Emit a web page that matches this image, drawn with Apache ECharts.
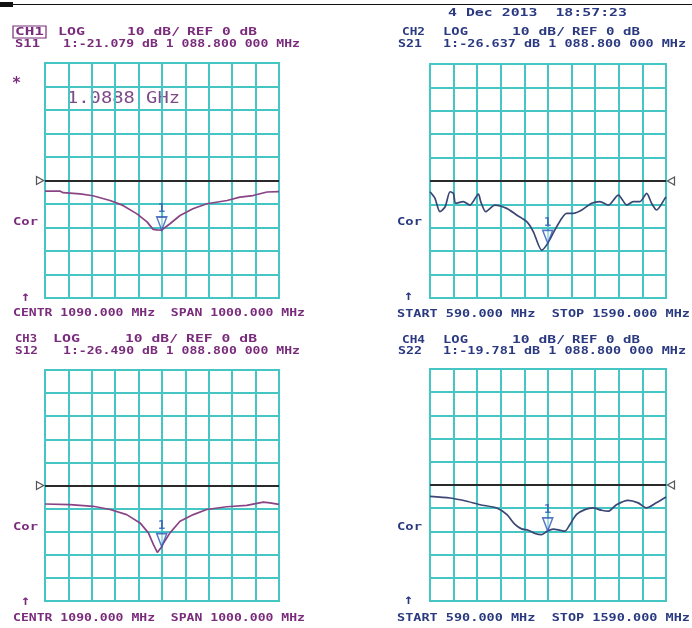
<!DOCTYPE html>
<html>
<head>
<meta charset="utf-8">
<script src="https://cdn.jsdelivr.net/npm/echarts@6/dist/echarts.min.js"></script>
<style>html,body{margin:0;padding:0;background:#fff;}#c{width:692px;height:628px;}</style>
</head>
<body>
<div id="c"></div>
<script>
// ---- data (frequency in MHz, magnitude in dB) ----
const s11Freq = [590, 654, 667, 740, 795, 868, 923, 983, 1026, 1052, 1070, 1088.8, 1124, 1167, 1222, 1282, 1368, 1423, 1479, 1539, 1590];
const s11Db   = [-4.5, -4.5, -5.2, -5.7, -6.5, -8.5, -10.6, -14.2, -17.6, -20.8, -21.0, -21.08, -18.4, -14.9, -12.0, -9.9, -8.5, -7.1, -6.4, -4.9, -4.7];

const s21Freq = [590, 611, 632, 654, 675, 689, 699, 731, 759, 795, 805, 826, 865, 915, 957, 1000, 1028, 1063, 1088.8, 1127, 1169, 1197, 1233, 1275, 1310, 1346, 1388, 1424, 1451, 1480, 1508, 1529, 1550, 1586, 1590];
const s21Db   = [-4.6, -7.4, -13.1, -11.0, -4.6, -5.3, -9.5, -8.8, -10.3, -5.6, -8.8, -13.1, -10.3, -11.7, -14.5, -17.4, -21.7, -29.5, -26.64, -19.5, -13.8, -13.8, -12.4, -9.5, -8.8, -10.3, -6.0, -10.3, -8.8, -8.8, -5.3, -9.5, -12.4, -7.4, -6.8];

const s12Freq = [590, 697, 796, 868, 939, 996, 1032, 1053, 1070, 1088.8, 1096, 1124, 1167, 1224, 1281, 1366, 1452, 1523, 1551, 1590];
const s12Db   = [-8.0, -8.3, -9.0, -10.4, -12.6, -16.2, -20.5, -25.5, -29.0, -26.49, -25.0, -20.5, -15.5, -12.6, -10.4, -9.2, -8.6, -7.2, -7.5, -8.2];

const s22Freq = [590, 675, 746, 802, 873, 915, 950, 978, 1006, 1035, 1063, 1088.8, 1112, 1141, 1162, 1183, 1211, 1246, 1281, 1317, 1345, 1380, 1429, 1472, 1507, 1549, 1590];
const s22Db   = [-4.9, -5.6, -7.0, -8.5, -9.9, -12.7, -17.0, -18.9, -19.5, -20.9, -21.4, -19.78, -19.0, -19.5, -19.9, -17.0, -12.7, -10.6, -9.9, -10.9, -11.3, -8.5, -6.6, -7.7, -9.9, -7.7, -5.2];

const markerFreq = 1088.8;
const markerDb = [-21.079, -26.637, -26.490, -19.781];

const freqStart = 590, freqStop = 1590, freqStep = 100;
const dbMin = -50, dbMax = 50, dbStep = 10, refLevel = 0;

// ---- styling / layout ----
const PURPLE = '#7a2c7c', NAVY = '#2b3a80', GRIDC = '#45c6c4', MARK = '#2f55b5';
const CURVE_P = '#8a4486', CURVE_N = '#3b4675';
const grids = [
  {left: 45, top: 63, width: 234, height: 235},
  {left: 430, top: 64, width: 236, height: 234},
  {left: 45, top: 370, width: 234, height: 231},
  {left: 430, top: 369, width: 236, height: 232}
];
const curves = [[s11Freq, s11Db, CURVE_P, 0], [s21Freq, s21Db, CURVE_N, 0.25], [s12Freq, s12Db, CURVE_P, 0], [s22Freq, s22Db, CURVE_N, 0.25]];

const xAxes = grids.map((g, i) => ({
  gridIndex: i, type: 'value', min: freqStart, max: freqStop, interval: freqStep,
  axisLabel: {show: false}, axisTick: {show: false}, axisLine: {show: false},
  splitLine: {show: true, showMinLine: true, showMaxLine: true, lineStyle: {color: GRIDC, width: 2}}
}));
const yAxes = grids.map((g, i) => ({
  gridIndex: i, type: 'value', min: dbMin, max: dbMax, interval: dbStep,
  axisLabel: {show: false}, axisTick: {show: false}, axisLine: {show: false},
  splitLine: {show: true, showMinLine: true, showMaxLine: true, lineStyle: {color: GRIDC, width: 2}}
}));

const series = [];
curves.forEach((c, i) => {
  series.push({
    type: 'line', xAxisIndex: i, yAxisIndex: i, showSymbol: false, symbol: 'none',
    smooth: c[3], data: c[0].map((f, k) => [f, c[1][k]]),
    lineStyle: {color: c[2], width: 1.7}, z: 3, silent: true,
    markLine: {silent: true, symbol: 'none', label: {show: false},
      lineStyle: {color: '#2a2a2a', width: 2, type: 'solid'}, data: [{yAxis: refLevel}]}
  });
  // reference-level arrow
  const left = (i % 2 === 0);
  series.push({
    type: 'scatter', xAxisIndex: i, yAxisIndex: i, clip: false, silent: true, z: 4,
    data: [[left ? freqStart : freqStop, refLevel]],
    symbol: left ? 'path://M0,0 L10,5 L0,10 Z' : 'path://M10,0 L0,5 L10,10 Z',
    symbolSize: [7, 8], symbolOffset: [left ? -5 : 5, 0],
    itemStyle: {color: '#fff', borderColor: '#2a2a2a', borderWidth: 1.3}
  });
  // marker 1
  series.push({
    type: 'scatter', xAxisIndex: i, yAxisIndex: i, clip: false, silent: true, z: 5,
    data: [[markerFreq, markerDb[i]]],
    symbol: 'path://M0,0 L10,0 L5,12 Z', symbolSize: [10, 13], symbolOffset: [0, '-50%'],
    itemStyle: {color: 'rgba(255,255,255,0.6)', borderColor: MARK, borderWidth: 1.6},
    label: {show: true, position: 'top', distance: 1, formatter: '1', color: MARK,
      fontFamily: 'DejaVu Sans Mono', fontSize: 12, fontWeight: 'bold'}
  });
});

// ---- text ----
const mctx = document.createElement('canvas').getContext('2d');
function T(str, x1, x2, y, size, color, sy, weight) {
  const font = (weight || 'bold') + ' ' + size + 'px "DejaVu Sans Mono"';
  mctx.font = font;
  const w = mctx.measureText(str).width;
  return {type: 'text', x: x1, y: y, scaleX: (x2 - x1) / w, scaleY: sy || 0.85, silent: true,
    style: {text: str, font: font, fill: color, align: 'left', verticalAlign: 'middle'}};
}
const graphics = [
  {type: 'rect', shape: {x: 0, y: 4, width: 692, height: 1}, style: {fill: '#111'}, silent: true},
  {type: 'rect', shape: {x: 0, y: 2, width: 13, height: 5}, style: {fill: '#111'}, silent: true},
  T('4 Dec 2013  18:57:23', 448, 627, 13, 13, NAVY),
  // panel 1
  {type: 'rect', shape: {x: 13, y: 26, width: 33, height: 12}, style: {fill: 'none', stroke: PURPLE, lineWidth: 1.2}, silent: true},
  T('CH1', 15, 44, 32, 13, PURPLE),
  T('LOG', 58, 85, 32, 13, PURPLE),
  T('10 dB/', 127, 180, 32, 13, PURPLE),
  T('REF 0 dB', 187, 257, 32, 13, PURPLE),
  T('S11', 15, 40, 44, 13, PURPLE),
  T('1:-21.079 dB 1 088.800 000 MHz', 63, 300, 44, 13, PURPLE),
  T('*', 12, 21, 84, 16, PURPLE, 1.0),
  T('1.0888 GHz', 67, 180, 99, 16, '#7e4a88', 1.0, 'normal'),
  T('Cor', 13, 38, 222, 13, PURPLE),
  T('↑', 21, 30, 297, 14, PURPLE, 1.0),
  T('CENTR 1090.000 MHz  SPAN 1000.000 MHz', 13, 305, 313, 13, PURPLE),
  // panel 2
  T('CH2', 402, 425, 32, 13, NAVY),
  T('LOG', 443, 468, 32, 13, NAVY),
  T('10 dB/', 512, 565, 32, 13, NAVY),
  T('REF 0 dB', 572, 640, 32, 13, NAVY),
  T('S21', 398, 422, 44, 13, NAVY),
  T('1:-26.637 dB 1 088.800 000 MHz', 443, 686, 44, 13, NAVY),
  T('Cor', 397, 422, 222, 13, NAVY),
  T('↑', 404, 413, 296, 14, NAVY, 1.0),
  T('START 590.000 MHz  STOP 1590.000 MHz', 397, 690, 314, 13, NAVY),
  // panel 3
  T('CH3', 15, 37, 339, 13, PURPLE),
  T('LOG', 53, 80, 339, 13, PURPLE),
  T('10 dB/', 125, 178, 339, 13, PURPLE),
  T('REF 0 dB', 186, 257, 339, 13, PURPLE),
  T('S12', 15, 38, 351, 13, PURPLE),
  T('1:-26.490 dB 1 088.800 000 MHz', 63, 300, 351, 13, PURPLE),
  T('Cor', 13, 38, 527, 13, PURPLE),
  T('↑', 21, 30, 601, 14, PURPLE, 1.0),
  T('CENTR 1090.000 MHz  SPAN 1000.000 MHz', 13, 305, 618, 13, PURPLE),
  // panel 4
  T('CH4', 402, 425, 340, 13, NAVY),
  T('LOG', 443, 468, 340, 13, NAVY),
  T('10 dB/', 512, 565, 340, 13, NAVY),
  T('REF 0 dB', 572, 640, 340, 13, NAVY),
  T('S22', 398, 422, 351, 13, NAVY),
  T('1:-19.781 dB 1 088.800 000 MHz', 443, 686, 351, 13, NAVY),
  T('Cor', 397, 422, 527, 13, NAVY),
  T('↑', 404, 413, 600, 14, NAVY, 1.0),
  T('START 590.000 MHz  STOP 1590.000 MHz', 397, 690, 618, 13, NAVY)
];

const chart = echarts.init(document.getElementById('c'), null, {renderer: 'canvas'});
chart.setOption({
  backgroundColor: '#fff',
  animation: false,
  grid: grids.map(g => Object.assign({show: true, borderColor: GRIDC, borderWidth: 2, backgroundColor: 'transparent'}, g)),
  xAxis: xAxes,
  yAxis: yAxes,
  series: series,
  graphic: graphics
});
</script>
</body>
</html>
